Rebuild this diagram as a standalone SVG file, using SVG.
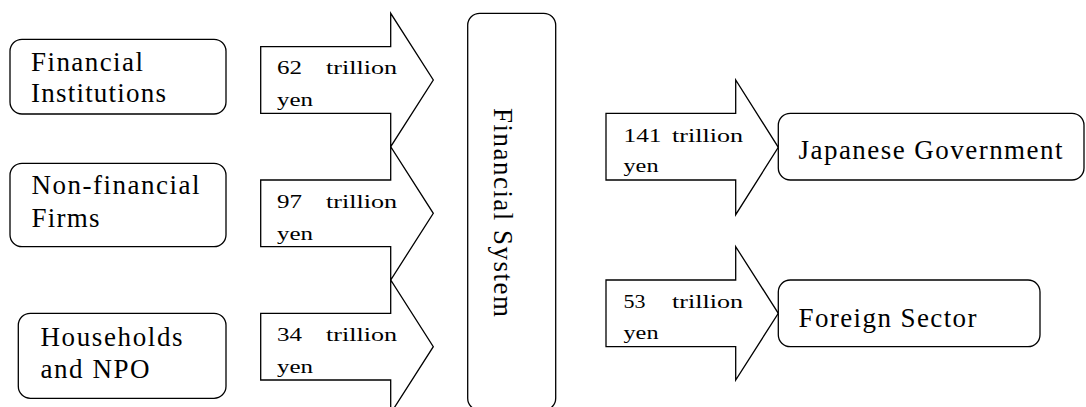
<svg xmlns="http://www.w3.org/2000/svg" width="1086" height="407" viewBox="0 0 1086 407">
  <style>
    .box { fill: #ffffff; stroke: #000000; stroke-width: 1.3; }
    .arrow { fill: #ffffff; stroke: #000000; stroke-width: 1.3; stroke-linejoin: miter; }
    text { font-family: 'Liberation Serif', 'Times New Roman', Tinos, 'DejaVu Serif', serif; fill: #000000; }
    .big { font-size: 27px; }
    .small { font-size: 19px; }
  </style>
  <rect width="1086" height="407" fill="#ffffff"/>

  <g id="connectors">
    <g id="flow-fi">
      <polygon class="arrow" points="260.7,46.7 390.7,46.7 390.7,13.3 433.3,80 390.7,146.7 390.7,113.3 260.7,113.3"/>
      <text class="small" y="74"><tspan x="277" textLength="25" lengthAdjust="spacingAndGlyphs">62</tspan><tspan x="326" textLength="71" lengthAdjust="spacingAndGlyphs">trillion</tspan></text>
      <text class="small" x="277" y="106" textLength="36" lengthAdjust="spacingAndGlyphs">yen</text>
    </g>
    <g id="flow-nff">
      <polygon class="arrow" points="260.7,180 390.7,180 390.7,146.7 433.3,213.3 390.7,280 390.7,246.7 260.7,246.7"/>
      <text class="small" y="207.5"><tspan x="277" textLength="25" lengthAdjust="spacingAndGlyphs">97</tspan><tspan x="326" textLength="71" lengthAdjust="spacingAndGlyphs">trillion</tspan></text>
      <text class="small" x="277" y="239.5" textLength="36" lengthAdjust="spacingAndGlyphs">yen</text>
    </g>
    <g id="flow-hh">
      <polygon class="arrow" points="260.7,313.3 390.7,313.3 390.7,280 433.3,346.7 390.7,413.3 390.7,380 260.7,380"/>
      <text class="small" y="341"><tspan x="277" textLength="25" lengthAdjust="spacingAndGlyphs">34</tspan><tspan x="326" textLength="71" lengthAdjust="spacingAndGlyphs">trillion</tspan></text>
      <text class="small" x="277" y="373" textLength="36" lengthAdjust="spacingAndGlyphs">yen</text>
    </g>
    <g id="flow-gov">
      <polygon class="arrow" points="606,113.3 735.7,113.3 735.7,80 778.3,147.3 735.7,214.7 735.7,180 606,180"/>
      <text class="small" y="141.5"><tspan x="623.5" textLength="38" lengthAdjust="spacingAndGlyphs">141</tspan><tspan x="672" textLength="71" lengthAdjust="spacingAndGlyphs">trillion</tspan></text>
      <text class="small" x="623.5" y="171.5" textLength="35" lengthAdjust="spacingAndGlyphs">yen</text>
    </g>
    <g id="flow-foreign">
      <polygon class="arrow" points="606,280 735.7,280 735.7,246.7 778.3,313.3 735.7,380 735.7,346.7 606,346.7"/>
      <text class="small" y="307.5"><tspan x="623.5" textLength="22" lengthAdjust="spacingAndGlyphs">53</tspan><tspan x="672" textLength="71" lengthAdjust="spacingAndGlyphs">trillion</tspan></text>
      <text class="small" x="623.5" y="338.5" textLength="35" lengthAdjust="spacingAndGlyphs">yen</text>
    </g>
  </g>

  <g id="financial-institutions">
    <rect class="box" x="10" y="39.3" width="216" height="74.7" rx="12" ry="12"/>
    <text class="big" x="31" y="70.5" textLength="112" lengthAdjust="spacing">Financial</text>
    <text class="big" x="31" y="102" textLength="135" lengthAdjust="spacing">Institutions</text>
  </g>

  <g id="non-financial-firms">
    <rect class="box" x="10" y="163.3" width="216" height="83.4" rx="12" ry="12"/>
    <text class="big" x="31.5" y="194" textLength="168" lengthAdjust="spacing">Non-financial</text>
    <text class="big" x="31.5" y="226.5" textLength="68" lengthAdjust="spacing">Firms</text>
  </g>

  <g id="households-npo">
    <rect class="box" x="18.3" y="313.3" width="207.7" height="85" rx="12" ry="12"/>
    <text class="big" x="40.5" y="346" textLength="142" lengthAdjust="spacing">Households</text>
    <text class="big" x="40.5" y="378.3" textLength="109" lengthAdjust="spacing">and NPO</text>
  </g>

  <g id="financial-system">
    <rect class="box" x="467.7" y="13.3" width="88" height="397" rx="12" ry="12"/>
    <text class="big" transform="translate(493.5,108) rotate(90)" x="0" y="0" textLength="209" lengthAdjust="spacing">Financial System</text>
  </g>

  <g id="japanese-government">
    <rect class="box" x="778.3" y="113.3" width="305.7" height="66.7" rx="12" ry="12"/>
    <text class="big" x="798.5" y="159.3" textLength="264" lengthAdjust="spacing">Japanese Government</text>
  </g>

  <g id="foreign-sector">
    <rect class="box" x="778.3" y="280" width="261.7" height="66.7" rx="12" ry="12"/>
    <text class="big" x="798.5" y="327.3" textLength="178" lengthAdjust="spacing">Foreign Sector</text>
  </g>
</svg>
